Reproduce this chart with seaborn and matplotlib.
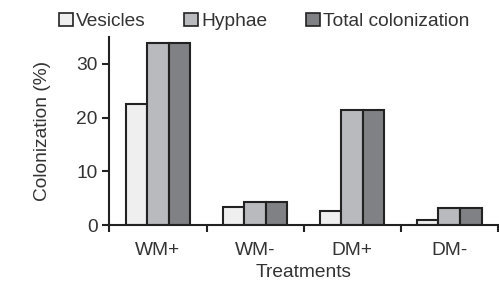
import pandas as pd
import matplotlib
matplotlib.use("Agg")
import matplotlib.pyplot as plt
import seaborn as sns
from matplotlib.patches import Patch

treatments = ["WM+", "WM-", "DM+", "DM-"]
vesicles = [22.5, 3.4, 2.7, 0.9]
hyphae = [33.9, 4.3, 21.5, 3.2]
total = [33.9, 4.3, 21.5, 3.2]
series = ["Vesicles", "Hyphae", "Total colonization"]
colors = ["#efefef", "#b9babd", "#808184"]

df = pd.DataFrame({"Treatment": treatments * 3,
                   "Measure": [s for s in series for _ in treatments],
                   "Value": vesicles + hyphae + total})

sns.set_style("ticks")
plt.rcParams["font.family"] = ["Liberation Sans", "DejaVu Sans"]
ink = "#222222"
fs = 13.8

fig = plt.figure(figsize=(4.99, 2.84), dpi=100)
ax = fig.add_axes([0.2194, 0.2077, 0.7780, 0.6620])
sns.barplot(data=df, x="Treatment", y="Value", hue="Measure", order=treatments,
            hue_order=series, palette=colors, width=0.667, edgecolor=ink,
            linewidth=1.5, saturation=1, legend=False, ax=ax)

ax.set_xlim(-0.5, 3.5)
ax.set_ylim(0, 35)
ax.set_yticks([0, 10, 20, 30])
ax.set_xticks([-0.5, 0.5, 1.5, 2.5, 3.5], minor=True)
ax.tick_params(axis="x", which="major", length=0, pad=12, labelsize=fs, labelcolor="#333333")
ax.tick_params(axis="x", which="minor", length=5, width=1.5, color=ink)
ax.tick_params(axis="y", length=5, width=1.5, color=ink, labelsize=fs, labelcolor="#333333")
for s in ["top", "right"]:
    ax.spines[s].set_visible(False)
for s in ["left", "bottom"]:
    ax.spines[s].set_linewidth(1.5)
    ax.spines[s].set_color(ink)
ax.set_xlabel("Treatments", fontsize=fs, color="#333333", labelpad=4)
ax.set_ylabel("Colonization (%)", fontsize=fs, color="#333333", labelpad=18)

handles = [Patch(facecolor=c, edgecolor=ink, linewidth=1.2) for c in colors]
fig.legend(handles, series, loc="upper center", bbox_to_anchor=(0.53, 1.015), ncol=3,
           frameon=False, fontsize=fs, handlelength=0.7, handleheight=0.7,
           handletextpad=0.2, columnspacing=2.0, labelcolor="#333333")

fig.savefig("out.png", dpi=100)
